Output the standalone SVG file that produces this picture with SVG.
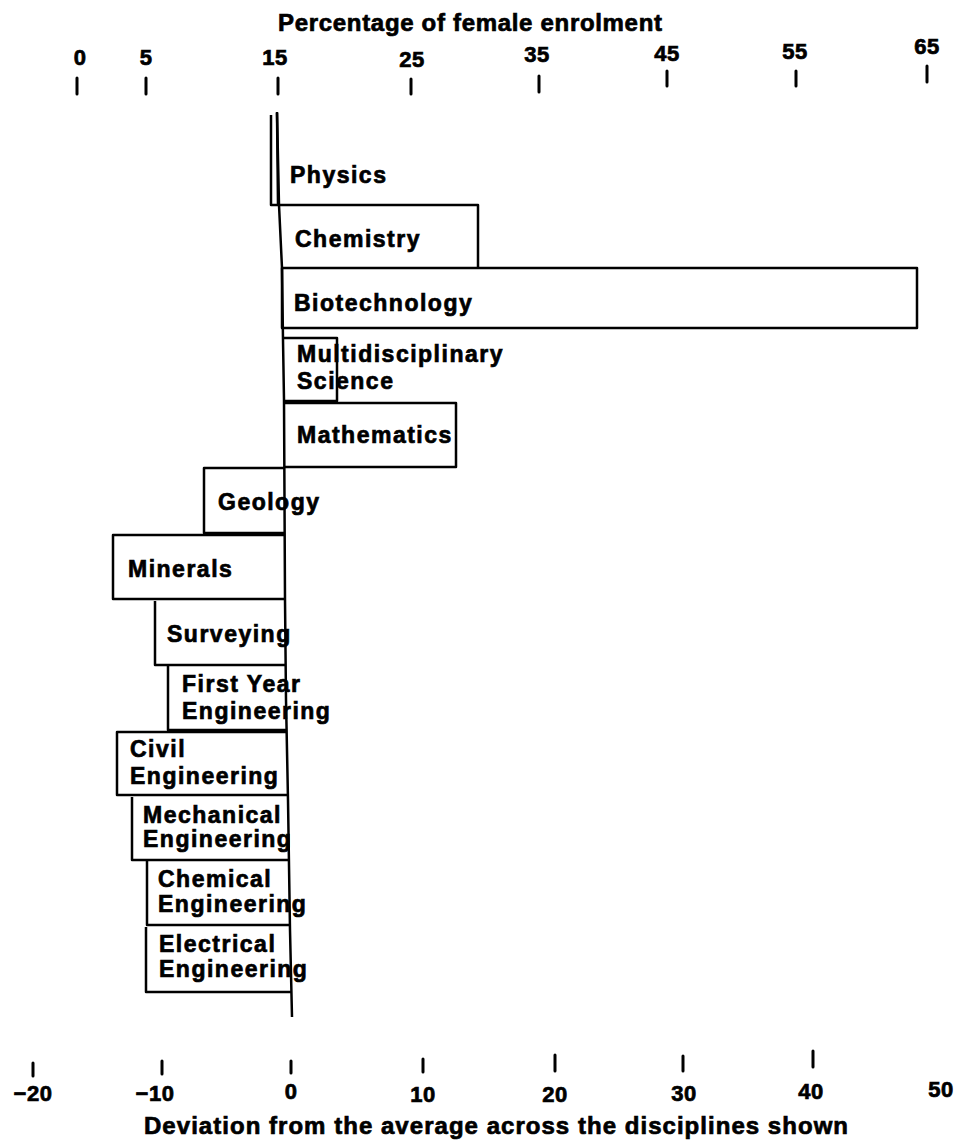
<svg xmlns="http://www.w3.org/2000/svg" width="960" height="1142" viewBox="0 0 960 1142">
  <style>
    text { font-family: "Liberation Sans", Arial, sans-serif; font-weight: bold; fill: #000; stroke: #000; stroke-width: 0.7; }
    .lbl { font-size: 23px; letter-spacing: 1.5px; }
    .tick-lbl { font-size: 22px; letter-spacing: 0.5px; text-anchor: middle; }
    .title { font-size: 24px; }
    .bar { fill: none; stroke: #000; stroke-width: 2.5; stroke-linejoin: round; }
    .tick { stroke: #000; stroke-width: 3; stroke-linecap: round; }
    .zero { fill: none; stroke: #000; stroke-width: 2.5; }
  </style>
  <rect width="960" height="1142" fill="#fff"/>

  <!-- upper scale: percentage of female enrolment -->
  <g id="axis-top">
    <text class="title" x="278" y="31" textLength="384" lengthAdjust="spacing">Percentage of female enrolment</text>
    <text class="tick-lbl" x="80" y="65">0</text>
    <text class="tick-lbl" x="146" y="65">5</text>
    <text class="tick-lbl" x="275" y="65">15</text>
    <text class="tick-lbl" x="412" y="67">25</text>
    <text class="tick-lbl" x="537" y="62">35</text>
    <text class="tick-lbl" x="667" y="61">45</text>
    <text class="tick-lbl" x="795" y="59">55</text>
    <text class="tick-lbl" x="927" y="54">65</text>
    <line class="tick" x1="77" y1="78" x2="77" y2="94"/>
    <line class="tick" x1="146" y1="78" x2="146" y2="94"/>
    <line class="tick" x1="278" y1="78" x2="278" y2="94"/>
    <line class="tick" x1="411" y1="79" x2="411" y2="94"/>
    <line class="tick" x1="539" y1="76" x2="539" y2="92"/>
    <line class="tick" x1="667" y1="71" x2="667" y2="86"/>
    <line class="tick" x1="796" y1="71" x2="796" y2="86"/>
    <line class="tick" x1="927" y1="66" x2="927" y2="82"/>
  </g>

  <!-- lower scale: deviation from the average -->
  <g id="axis-bottom">
    <line class="tick" x1="33" y1="1063" x2="33" y2="1076"/>
    <line class="tick" x1="162" y1="1061" x2="162" y2="1074"/>
    <line class="tick" x1="291" y1="1061" x2="291" y2="1073"/>
    <line class="tick" x1="423" y1="1059" x2="423" y2="1072"/>
    <line class="tick" x1="555" y1="1055" x2="555" y2="1071"/>
    <line class="tick" x1="683" y1="1056" x2="683" y2="1071"/>
    <line class="tick" x1="813" y1="1051" x2="813" y2="1067"/>
    <text class="tick-lbl" x="33" y="1101">−20</text>
    <text class="tick-lbl" x="155" y="1101">−10</text>
    <text class="tick-lbl" x="291" y="1099">0</text>
    <text class="tick-lbl" x="423" y="1102">10</text>
    <text class="tick-lbl" x="555" y="1102">20</text>
    <text class="tick-lbl" x="684" y="1101">30</text>
    <text class="tick-lbl" x="811" y="1099">40</text>
    <text class="tick-lbl" x="941" y="1097">50</text>
    <text class="title" x="144" y="1134" textLength="704" lengthAdjust="spacing">Deviation from the average across the disciplines shown</text>
  </g>

  <!-- one bar per discipline -->
  <g id="physics">
    <polyline class="bar" points="277,113 278,205 271,205 271,115"/>
    <text class="lbl" x="290" y="183">Physics</text>
  </g>
  <g id="chemistry">
    <polyline class="bar" points="280,205 478,205 478,268"/>
    <text class="lbl" x="295" y="247">Chemistry</text>
  </g>
  <g id="biotechnology">
    <rect class="bar" x="282" y="268" width="635" height="60"/>
    <text class="lbl" x="294" y="311">Biotechnology</text>
  </g>
  <g id="multidisciplinary-science">
    <polyline class="bar" points="283,338 337,338 337,401 284,401"/>
    <text class="lbl" x="297" y="362">Multidisciplinary</text>
    <text class="lbl" x="297" y="389">Science</text>
  </g>
  <g id="mathematics">
    <polyline class="bar" points="284,403 456,403 456,467 284,467"/>
    <text class="lbl" x="297" y="443">Mathematics</text>
  </g>
  <g id="geology">
    <polyline class="bar" points="285,468 204,468 204,533 285,533"/>
    <text class="lbl" x="218" y="510">Geology</text>
  </g>
  <g id="minerals">
    <polyline class="bar" points="285,535 113,535 113,599 285,599"/>
    <text class="lbl" x="128" y="577">Minerals</text>
  </g>
  <g id="surveying">
    <polyline class="bar" points="155,601 155,665 286,665"/>
    <text class="lbl" x="167" y="642">Surveying</text>
  </g>
  <g id="first-year-engineering">
    <polyline class="bar" points="168,665 168,730 287,730"/>
    <text class="lbl" x="182" y="692">First Year</text>
    <text class="lbl" x="182" y="719">Engineering</text>
  </g>
  <g id="civil-engineering">
    <polyline class="bar" points="287,732 117,732 117,795 287,795"/>
    <text class="lbl" x="130" y="757">Civil</text>
    <text class="lbl" x="130" y="784">Engineering</text>
  </g>
  <g id="mechanical-engineering">
    <polyline class="bar" points="132,797 132,860 289,860"/>
    <text class="lbl" x="143" y="823">Mechanical</text>
    <text class="lbl" x="143" y="847">Engineering</text>
  </g>
  <g id="chemical-engineering">
    <polyline class="bar" points="147,860 147,925 290,925"/>
    <text class="lbl" x="158" y="887">Chemical</text>
    <text class="lbl" x="158" y="912">Engineering</text>
  </g>
  <g id="electrical-engineering">
    <polyline class="bar" points="146,927 146,992 291,992"/>
    <text class="lbl" x="159" y="952">Electrical</text>
    <text class="lbl" x="159" y="977">Engineering</text>
  </g>

  <!-- zero (average) line shared by all bars -->
  <g id="connectors">
    <polyline class="zero" points="277,112 279,205 282,268 283,340 284,400 285,600 286,700 288,800 290,930 292,1017"/>
  </g>
</svg>
